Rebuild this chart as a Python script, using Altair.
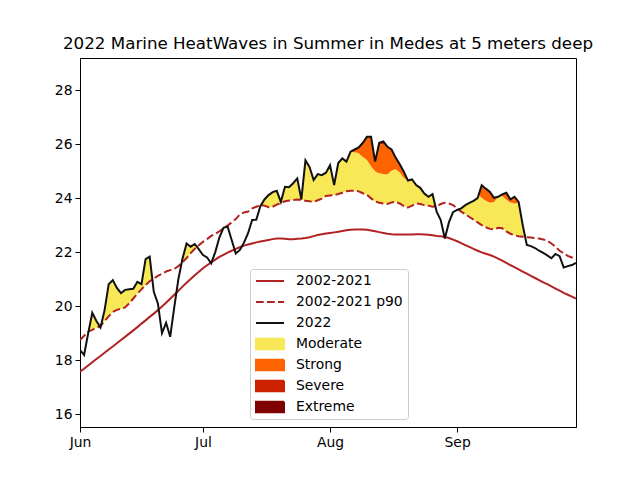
import altair as alt
import numpy as np
import pandas as pd

# ---------------- data ----------------
start = "2022-06-01"
n_days = 122  # Jun 1 .. Sep 30

sst_2022 = [
    18.37, 18.19, 19.00, 19.75, 19.45, 19.21, 19.85, 20.81, 20.96, 20.67,
    20.48, 20.60, 20.62, 20.64, 20.90, 20.81, 21.74, 21.83, 20.53, 20.10,
    19.00, 19.38, 18.86, 19.96, 21.00, 21.75, 22.32, 22.20, 22.30, 22.10,
    21.89, 21.80, 21.58, 22.00, 22.54, 22.90, 22.95, 22.45, 21.95, 22.08,
    22.35, 22.70, 23.19, 23.20, 23.70, 23.95, 24.11, 24.22, 24.27, 23.86,
    24.42, 24.40, 24.55, 24.73, 23.95, 25.40, 25.15, 24.67, 24.89, 24.85,
    24.94, 25.22, 24.48, 25.30, 25.47, 25.35, 25.72, 25.80, 25.88, 26.05,
    26.27, 26.27, 25.35, 26.05, 26.10, 25.90, 25.80, 25.50, 25.25, 24.98,
    24.65, 24.69, 24.48, 24.38, 24.17, 24.05, 24.15, 23.50, 23.19, 22.50,
    23.10, 23.48, 23.56, 23.62, 23.74, 23.82, 23.90, 24.00, 24.48, 24.35,
    24.23, 24.01, 24.05, 24.14, 24.20, 23.95, 24.05, 23.86, 23.00, 22.26,
    22.22, 22.15, 22.05, 21.97, 21.88, 21.77, 21.93, 21.85, 21.43, 21.48,
    21.52, 21.60,
]

clim = [
    17.57, 17.68, 17.80, 17.92, 18.04, 18.15, 18.27, 18.39, 18.50, 18.62,
    18.74, 18.86, 18.98, 19.10, 19.22, 19.35, 19.47, 19.60, 19.72, 19.85,
    19.98, 20.12, 20.27, 20.42, 20.57, 20.72, 20.86, 21.00, 21.14, 21.27,
    21.40, 21.51, 21.62, 21.72, 21.82, 21.90, 21.98, 22.05, 22.12, 22.18,
    22.24, 22.28, 22.32, 22.36, 22.39, 22.42, 22.45, 22.48, 22.50, 22.50,
    22.49, 22.48, 22.48, 22.49, 22.50, 22.52, 22.55, 22.59, 22.63, 22.66,
    22.69, 22.71, 22.73, 22.75, 22.78, 22.81, 22.83, 22.84, 22.84, 22.84,
    22.83, 22.80, 22.77, 22.74, 22.71, 22.68, 22.66, 22.65, 22.65, 22.65,
    22.65, 22.65, 22.66, 22.66, 22.65, 22.64, 22.62, 22.60, 22.59, 22.56,
    22.52, 22.46, 22.40, 22.33, 22.26, 22.19, 22.12, 22.05, 21.99, 21.94,
    21.89, 21.83, 21.76, 21.68, 21.60, 21.52, 21.44, 21.36, 21.28, 21.20,
    21.12, 21.04, 20.96, 20.88, 20.81, 20.73, 20.65, 20.57, 20.49, 20.42,
    20.35, 20.28,
]

p90 = [
    18.74, 18.90, 19.05, 19.12, 19.20, 19.26, 19.45, 19.62, 19.78, 19.86,
    19.90, 19.95, 20.10, 20.28, 20.46, 20.62, 20.78, 20.92, 21.02, 21.12,
    21.20, 21.28, 21.33, 21.38, 21.48, 21.62, 21.78, 21.96, 22.12, 22.25,
    22.38, 22.48, 22.60, 22.67, 22.77, 22.88, 22.98, 23.10, 23.22, 23.40,
    23.47, 23.50, 23.62, 23.68, 23.74, 23.72, 23.66, 23.68, 23.76, 23.82,
    23.88, 23.91, 23.93, 23.95, 23.94, 23.90, 23.88, 23.86, 23.92, 23.98,
    24.08, 24.10, 24.11, 24.15, 24.20, 24.25, 24.27, 24.27, 24.25, 24.18,
    24.12, 23.99, 23.88, 23.83, 23.80, 23.78, 23.84, 23.86, 23.80, 23.70,
    23.65, 23.72, 23.80, 23.78, 23.74, 23.72, 23.68, 23.70, 23.78, 23.83,
    23.80, 23.74, 23.62, 23.50, 23.40, 23.30, 23.20, 23.10, 23.00, 22.92,
    22.86, 22.84, 22.90, 22.88, 22.77, 22.68, 22.62, 22.59, 22.57, 22.55,
    22.54, 22.52, 22.50, 22.47, 22.42, 22.32, 22.20, 22.05, 21.95, 21.86,
    21.80, 21.73,
]

names = ["2002-2021", "2002-2021 p90", "2022", "Moderate", "Strong", "Severe", "Extreme"]
colors = ["#b22222", "#b22222", "#111111", "#f8e858", "#fd6400", "#cc2200", "#7f0000"]
month_ticks = ["2022-06-01", "2022-07-01", "2022-08-01", "2022-09-01"]
y_ticks = [16, 18, 20, 22, 24, 26, 28]

# ---------------- frames ----------------
DAY_MS = 86400000
t0 = pd.Timestamp(start, tz="UTC").value // 10**6
days = np.arange(n_days)
daily = pd.DataFrame({
    "ms": t0 + days * DAY_MS,
    "t": sst_2022, "clim": clim, "p90": p90,
})

# fine grid only to trace exact crossings of the straight line segments for the fills
fd = np.arange(0, n_days - 1 + 1e-9, 0.1)
tf = np.interp(fd, days, sst_2022)
cf = np.interp(fd, days, clim)
pf = np.interp(fd, days, p90)
dif = pf - cf
thr = [pf, cf + 2 * dif, cf + 3 * dif, cf + 4 * dif, np.full_like(pf, 1e9)]
bands = []
for i, cat in enumerate(["Moderate", "Strong", "Severe", "Extreme"]):
    lo = thr[i]
    hi = np.clip(tf, thr[i], thr[i + 1])
    bands.append(pd.DataFrame({"ms": t0 + fd * DAY_MS, "lo": lo, "hi": hi, "cat": cat}))
bands = pd.concat(bands, ignore_index=True)

# ---------------- scales ----------------
xscale = alt.Scale(type="utc", domain=[t0, t0 + (n_days - 1) * DAY_MS], nice=False)
yscale = alt.Scale(domain=[15.52, 29.19], nice=False, zero=False)
tick_ms = [pd.Timestamp(m, tz="UTC").value // 10**6 for m in month_ticks]
xaxis = alt.Axis(values=tick_ms, labelExpr="utcFormat(datum.value, '%b')", title=None,
                 grid=False, labelFlush=False)
yaxis = alt.Axis(values=y_ticks, title=None, grid=False)

X = alt.X("ms:T", scale=xscale, axis=xaxis)

area_layers = []
for cat, col in zip(names[3:], colors[3:]):
    area_layers.append(
        alt.Chart(bands).transform_filter(alt.datum.cat == cat)
        .mark_area(color=col, opacity=1, clip=True, interpolate="linear")
        .encode(x=X, y=alt.Y("lo:Q", scale=yscale, axis=yaxis), y2="hi:Q")
    )

clim_line = alt.Chart(daily).mark_line(color=colors[0], strokeWidth=2, clip=True).encode(
    x=X, y=alt.Y("clim:Q", scale=yscale, axis=yaxis))
p90_line = alt.Chart(daily).mark_line(color=colors[1], strokeWidth=2, strokeDash=[7.7, 3.3],
                                      clip=True).encode(
    x=X, y=alt.Y("p90:Q", scale=yscale, axis=yaxis))
obs_line = alt.Chart(daily).mark_line(color=colors[2], strokeWidth=2, clip=True).encode(
    x=X, y=alt.Y("t:Q", scale=yscale, axis=yaxis))

# legend (scale driven, no marks drawn)
line_path = "M-1,0H1"
rect_path = "M-1,-0.37H1V0.37H-1Z"
shapes = [line_path] * 3 + [rect_path] * 4
dashes = [[1, 0], [7.7, 3.3], [1, 0], [1, 0], [1, 0], [1, 0], [1, 0]]
leg = alt.Legend(
    title=None, orient="none", legendX=170, legendY=211,
    padding=5, rowPadding=7, clipHeight=14, symbolSize=784,
    symbolStrokeWidth=2, symbolOpacity=1, labelOffset=11,
    labelFont="DejaVu Sans", labelFontSize=13.9, labelColor="black",
    strokeColor="#cccccc", fillColor="white", cornerRadius=3,
)
legend_df = pd.DataFrame({"series": names})
legend_layer = alt.Chart(legend_df).transform_filter("false").mark_point(
    filled=True, opacity=1).encode(
    fill=alt.Fill("series:N", scale=alt.Scale(domain=names, range=colors), legend=leg),
    stroke=alt.Stroke("series:N", scale=alt.Scale(domain=names, range=colors), legend=leg),
    shape=alt.Shape("series:N", scale=alt.Scale(domain=names, range=shapes), legend=leg),
    strokeDash=alt.StrokeDash("series:N", scale=alt.Scale(domain=names, range=dashes), legend=leg),
)

chart = alt.layer(*area_layers, clim_line, p90_line, obs_line, legend_layer).properties(
    width=496, height=369,
    title=alt.TitleParams("2022 Marine HeatWaves in Summer in Medes at 5 meters deep",
                          font="DejaVu Sans", fontSize=16.7, fontWeight="normal",
                          color="black", anchor="middle", baseline="alphabetic", offset=-8),
    autosize=alt.AutoSizeParams(type="none"),
    padding={"left": 72, "top": 50, "right": 56, "bottom": 45},
    background="white",
).configure_view(stroke="black", strokeWidth=1).configure_axis(
    labelFont="DejaVu Sans", labelFontSize=13.9, labelColor="black",
    tickColor="black", domainColor="black", tickSize=5, tickWidth=1,
    labelPadding=3, domainWidth=1,
)

chart.save("out.html", embed_options={"renderer": "svg", "actions": False})
